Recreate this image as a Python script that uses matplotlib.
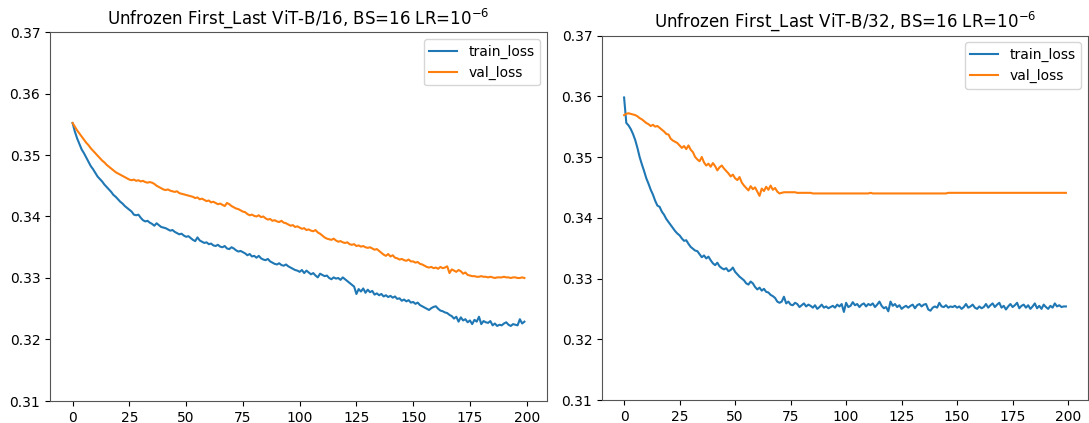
import matplotlib
matplotlib.use("Agg")
import matplotlib.pyplot as plt

epochs = list(range(200))

titles = [
    "Unfrozen First_Last ViT-B/16, BS=16 LR=$10^{-6}$",
    "Unfrozen First_Last ViT-B/32, BS=16 LR=$10^{-6}$",
]

y_ticks = [0.31, 0.32, 0.33, 0.34, 0.35, 0.36, 0.37]
x_ticks = [0, 25, 50, 75, 100, 125, 150, 175, 200]

train_b16 = [
    0.3552, 0.3538, 0.3527, 0.3518, 0.3509, 0.3503, 0.3496, 0.3489, 0.3482, 0.3477,
    0.3471, 0.3465, 0.3461, 0.3457, 0.3452, 0.3448, 0.3444, 0.3440, 0.3435, 0.3432,
    0.3428, 0.3424, 0.3421, 0.3417, 0.3414, 0.3411, 0.3408, 0.3403, 0.3402, 0.3403,
    0.3398, 0.3394, 0.3392, 0.3393, 0.3390, 0.3388, 0.3385, 0.3389, 0.3386, 0.3383,
    0.3382, 0.3381, 0.3379, 0.3377, 0.3378, 0.3375, 0.3373, 0.3371, 0.3372, 0.3369,
    0.3367, 0.3368, 0.3365, 0.3362, 0.3360, 0.3366, 0.3361, 0.3359, 0.3357, 0.3358,
    0.3355, 0.3356, 0.3353, 0.3352, 0.3354, 0.3351, 0.3350, 0.3352, 0.3348, 0.3347,
    0.3350, 0.3348, 0.3345, 0.3343, 0.3344, 0.3342, 0.3340, 0.3337, 0.3339, 0.3335,
    0.3336, 0.3333, 0.3336, 0.3332, 0.3330, 0.3329, 0.3331, 0.3327, 0.3325, 0.3323,
    0.3322, 0.3324, 0.3321, 0.3320, 0.3322, 0.3319, 0.3317, 0.3315, 0.3313, 0.3312,
    0.3310, 0.3313, 0.3308, 0.3312, 0.3309, 0.3306, 0.3308, 0.3304, 0.3301, 0.3307,
    0.3305, 0.3303, 0.3304, 0.3300, 0.3298, 0.3301, 0.3299, 0.3300, 0.3297, 0.3301,
    0.3298, 0.3295, 0.3292, 0.3289, 0.3286, 0.3274, 0.3282, 0.3278, 0.3283, 0.3276,
    0.3281, 0.3277, 0.3279, 0.3273, 0.3275, 0.3272, 0.3274, 0.3270, 0.3272, 0.3269,
    0.3271, 0.3268, 0.3270, 0.3266, 0.3267, 0.3263, 0.3265, 0.3262, 0.3264, 0.3260,
    0.3261, 0.3258, 0.3260, 0.3256, 0.3254, 0.3252, 0.3250, 0.3248, 0.3251, 0.3253,
    0.3254, 0.3250, 0.3247, 0.3246, 0.3244, 0.3243, 0.3240, 0.3238, 0.3234, 0.3237,
    0.3229, 0.3236, 0.3231, 0.3233, 0.3228, 0.3231, 0.3225, 0.3232, 0.3229, 0.3237,
    0.3225, 0.3230, 0.3228, 0.3227, 0.3230, 0.3223, 0.3226, 0.3222, 0.3224, 0.3223,
    0.3226, 0.3228, 0.3224, 0.3222, 0.3225, 0.3224, 0.3223, 0.3233, 0.3226, 0.3229,
]

val_b16 = [
    0.3552, 0.3546, 0.3540, 0.3535, 0.3530, 0.3525, 0.3520, 0.3516, 0.3511, 0.3507,
    0.3503, 0.3499, 0.3495, 0.3491, 0.3488, 0.3484, 0.3481, 0.3478, 0.3475, 0.3472,
    0.3470, 0.3468, 0.3466, 0.3464, 0.3462, 0.3460, 0.3459, 0.3460, 0.3458, 0.3459,
    0.3457, 0.3458, 0.3456, 0.3455, 0.3456, 0.3455, 0.3453, 0.3450, 0.3448, 0.3446,
    0.3444, 0.3443, 0.3444, 0.3442, 0.3441, 0.3440, 0.3441, 0.3438, 0.3437, 0.3436,
    0.3435, 0.3434, 0.3433, 0.3432, 0.3430, 0.3431, 0.3428, 0.3429, 0.3427, 0.3425,
    0.3426, 0.3423, 0.3424, 0.3422, 0.3420, 0.3421, 0.3419, 0.3417, 0.3422, 0.3420,
    0.3417, 0.3415, 0.3413, 0.3412, 0.3410, 0.3408, 0.3407, 0.3404, 0.3402, 0.3403,
    0.3401, 0.3400, 0.3402, 0.3399, 0.3400, 0.3397, 0.3395, 0.3396, 0.3393, 0.3394,
    0.3392, 0.3391, 0.3393, 0.3390, 0.3389, 0.3387, 0.3385, 0.3386, 0.3383, 0.3384,
    0.3382, 0.3380, 0.3381, 0.3378, 0.3379, 0.3377, 0.3376, 0.3378, 0.3374, 0.3372,
    0.3369, 0.3366, 0.3364, 0.3363, 0.3362, 0.3364, 0.3361, 0.3359, 0.3360, 0.3358,
    0.3357, 0.3358, 0.3355, 0.3354, 0.3355, 0.3352, 0.3353, 0.3351, 0.3352, 0.3350,
    0.3349, 0.3350, 0.3348, 0.3346, 0.3347, 0.3344, 0.3341, 0.3338, 0.3336, 0.3339,
    0.3335, 0.3337, 0.3333, 0.3332, 0.3330, 0.3331, 0.3329, 0.3328, 0.3330, 0.3327,
    0.3327, 0.3325, 0.3326, 0.3323, 0.3322, 0.3320, 0.3318, 0.3317, 0.3318, 0.3316,
    0.3317, 0.3315, 0.3318, 0.3316, 0.3317, 0.3319, 0.3308, 0.3314, 0.3312, 0.3310,
    0.3313, 0.3311, 0.3307, 0.3309, 0.3305, 0.3304, 0.3303, 0.3303, 0.3302, 0.3302,
    0.3303, 0.3302, 0.3302, 0.3301, 0.3302, 0.3301, 0.3300, 0.3301, 0.3301, 0.3301,
    0.3302, 0.3301, 0.3301, 0.3300, 0.3301, 0.3301, 0.3300, 0.3300, 0.3301, 0.3300,
]

train_b32 = [
    0.3598, 0.3556, 0.3552, 0.3546, 0.3538, 0.3528, 0.3515, 0.3500, 0.3488, 0.3477,
    0.3465, 0.3456, 0.3446, 0.3438, 0.3428, 0.3420, 0.3418, 0.3410, 0.3405, 0.3398,
    0.3393, 0.3388, 0.3383, 0.3378, 0.3374, 0.3371, 0.3366, 0.3362, 0.3363, 0.3357,
    0.3352, 0.3349, 0.3346, 0.3345, 0.3340, 0.3335, 0.3338, 0.3333, 0.3336, 0.3330,
    0.3325, 0.3322, 0.3326, 0.3320, 0.3317, 0.3315, 0.3317, 0.3312, 0.3314, 0.3318,
    0.3311, 0.3307, 0.3303, 0.3300, 0.3297, 0.3292, 0.3290, 0.3295, 0.3292, 0.3286,
    0.3282, 0.3285, 0.3280, 0.3283, 0.3278, 0.3277, 0.3273, 0.3271, 0.3268, 0.3262,
    0.3260, 0.3262, 0.3270, 0.3259, 0.3262, 0.3257, 0.3256, 0.3260, 0.3258, 0.3253,
    0.3256, 0.3259, 0.3254, 0.3257, 0.3255, 0.3252, 0.3256, 0.3250, 0.3253, 0.3257,
    0.3252, 0.3254, 0.3251, 0.3253, 0.3255, 0.3252, 0.3257, 0.3254, 0.3258, 0.3245,
    0.3260, 0.3253, 0.3255, 0.3261, 0.3256, 0.3258, 0.3253, 0.3257, 0.3259, 0.3254,
    0.3258, 0.3256, 0.3259, 0.3253, 0.3257, 0.3262, 0.3255, 0.3251, 0.3253, 0.3246,
    0.3262, 0.3255, 0.3258, 0.3253, 0.3256, 0.3250, 0.3253, 0.3255, 0.3252, 0.3255,
    0.3257, 0.3251, 0.3256, 0.3258, 0.3254, 0.3257, 0.3258, 0.3249, 0.3247, 0.3252,
    0.3254, 0.3252, 0.3260, 0.3254, 0.3253, 0.3256, 0.3252, 0.3254, 0.3253, 0.3255,
    0.3252, 0.3254, 0.3250, 0.3253, 0.3258, 0.3252, 0.3254, 0.3257, 0.3252, 0.3250,
    0.3254, 0.3251, 0.3253, 0.3258, 0.3252, 0.3256, 0.3259, 0.3253, 0.3257, 0.3260,
    0.3252, 0.3255, 0.3249, 0.3254, 0.3258, 0.3253, 0.3256, 0.3260, 0.3251, 0.3255,
    0.3257, 0.3252, 0.3256, 0.3250, 0.3254, 0.3259, 0.3251, 0.3255, 0.3250, 0.3257,
    0.3253, 0.3250, 0.3255, 0.3252, 0.3259, 0.3254, 0.3256, 0.3253, 0.3254, 0.3254,
]

val_b32 = [
    0.3569, 0.3571, 0.3572, 0.3571, 0.3570, 0.3569, 0.3567, 0.3564, 0.3562, 0.3559,
    0.3556, 0.3554, 0.3551, 0.3553, 0.3550, 0.3551, 0.3548, 0.3545, 0.3542, 0.3538,
    0.3537, 0.3530, 0.3527, 0.3525, 0.3523, 0.3519, 0.3515, 0.3518, 0.3513, 0.3519,
    0.3512, 0.3508, 0.3500, 0.3496, 0.3493, 0.3500, 0.3491, 0.3486, 0.3489, 0.3484,
    0.3490, 0.3485, 0.3478, 0.3483, 0.3486, 0.3481, 0.3477, 0.3473, 0.3468, 0.3471,
    0.3465, 0.3462, 0.3467, 0.3458, 0.3453, 0.3449, 0.3445, 0.3452, 0.3447, 0.3450,
    0.3443, 0.3436, 0.3448, 0.3444, 0.3451, 0.3446, 0.3453, 0.3446, 0.3449, 0.3443,
    0.3440, 0.3441, 0.3442, 0.3442, 0.3442, 0.3442, 0.3442, 0.3442, 0.3441, 0.3441,
    0.3441, 0.3441, 0.3441, 0.3441, 0.3441, 0.3440, 0.3440, 0.3440, 0.3440, 0.3440,
    0.3440, 0.3440, 0.3440, 0.3440, 0.3440, 0.3440, 0.3440, 0.3440, 0.3440, 0.3440,
    0.3440, 0.3440, 0.3440, 0.3440, 0.3440, 0.3440, 0.3440, 0.3440, 0.3440, 0.3440,
    0.3440, 0.3441, 0.3440, 0.3440, 0.3440, 0.3440, 0.3440, 0.3440, 0.3440, 0.3440,
    0.3440, 0.3440, 0.3440, 0.3440, 0.3440, 0.3440, 0.3440, 0.3440, 0.3440, 0.3440,
    0.3440, 0.3440, 0.3440, 0.3440, 0.3440, 0.3440, 0.3440, 0.3440, 0.3440, 0.3440,
    0.3440, 0.3440, 0.3440, 0.3440, 0.3440, 0.3440, 0.3441, 0.3441, 0.3441, 0.3441,
    0.3441, 0.3441, 0.3441, 0.3441, 0.3441, 0.3441, 0.3441, 0.3441, 0.3441, 0.3441,
    0.3441, 0.3441, 0.3441, 0.3441, 0.3441, 0.3441, 0.3441, 0.3441, 0.3441, 0.3441,
    0.3441, 0.3441, 0.3441, 0.3441, 0.3441, 0.3441, 0.3441, 0.3441, 0.3441, 0.3441,
    0.3441, 0.3441, 0.3441, 0.3441, 0.3441, 0.3441, 0.3441, 0.3441, 0.3441, 0.3441,
    0.3441, 0.3441, 0.3441, 0.3441, 0.3441, 0.3441, 0.3441, 0.3441, 0.3441, 0.3441,
]

W, H = 1089, 423
fig = plt.figure(figsize=(W / 100, H / 100), dpi=100)

ax1 = fig.add_axes([50 / W, (H - 401) / H, 497 / W, 369 / H])
ax2 = fig.add_axes([602 / W, (H - 400) / H, 486 / W, 364.5 / H])

for ax, title, tr, va in [
    (ax1, titles[0], train_b16, val_b16),
    (ax2, titles[1], train_b32, val_b32),
]:
    ax.plot(epochs, tr, color="#1f77b4", label="train_loss", linewidth=1.5)
    ax.plot(epochs, va, color="#ff7f0e", label="val_loss", linewidth=1.5)
    ax.set_ylim(0.31, 0.37)
    ax.set_yticks(y_ticks)
    ax.set_xticks(x_ticks)
    ax.set_title(title, fontsize=12)
    ax.legend(loc="upper right")
    for s in ax.spines.values():
        s.set_color("#555555")

fig.savefig("out.png", dpi=100)
